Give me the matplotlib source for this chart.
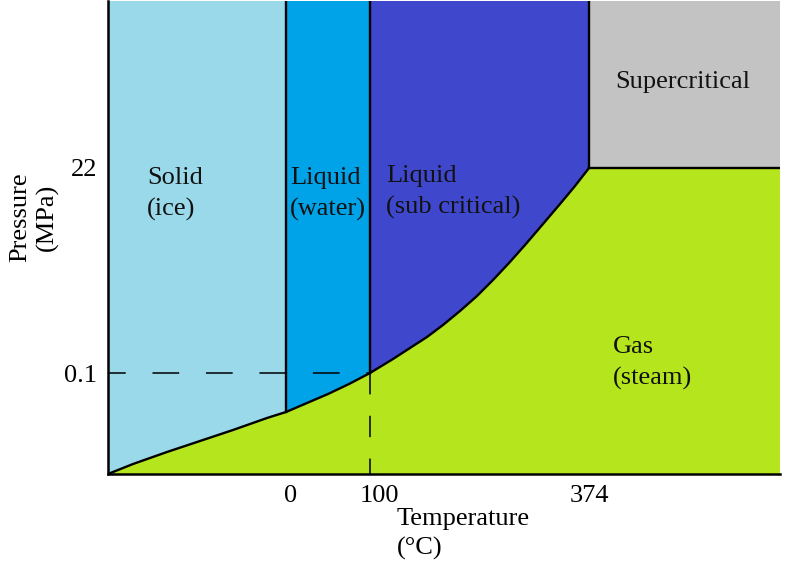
import matplotlib
matplotlib.use("Agg")
import matplotlib.pyplot as plt
from matplotlib.transforms import ScaledTranslation
import numpy as np

plt.rcParams['font.family'] = ['Liberation Serif', 'DejaVu Serif']

# Schematic coordinates (diagram units)
curve_x = [0, 25, 59, 92, 125, 159, 178, 199, 220, 241, 262, 285, 302, 319, 335,
           352, 369, 385, 401, 417, 435, 452, 467, 481]
curve_y = [0, 10, 22, 33, 44, 56, 62, 71, 80, 90, 101, 115, 126, 137, 149,
           163, 178, 194, 211, 229, 250, 270, 288, 306]
x_melt, x_boil, x_crit = 178, 262, 481
y_melt, y_atm, y_crit = 62, 101, 306
x_max, y_max = 672, 473

x_tick_pos = [178, 262, 481]
x_tick_labels = ["0", "100", "374"]
y_tick_pos = [101, 306]
y_tick_labels = ["0.1", "22"]

region_labels = ["Solid\n(ice)", "Liquid\n(water)", "Liquid\n(sub critical)", "Supercritical", "Gas\n(steam)"]
region_pos = [(39, 280), (182, 280), (278, 282), (507, 392), (505, 111)]

c_ice = "#99D9EA"
c_water = "#00A2E8"
c_sub = "#3F48CC"
c_gas = "#B5E61D"
c_super = "#C3C3C3"

fig = plt.figure(figsize=(7.88, 5.65), dpi=100)
ax = fig.add_axes([108/788, (565-474)/565, 672/788, 473/565])
ax.set_xlim(0, x_max)
ax.set_ylim(0, y_max)

cx = np.array(curve_x, float)
cy = np.array(curve_y, float)

def seg(a, b):
    m = (cx >= a) & (cx <= b)
    return cx[m], cy[m]

# Gas region
gx = list(cx) + [x_max, x_max, 0]
gy = list(cy) + [y_crit, 0, 0]
ax.fill(gx, gy, color=c_gas, lw=0)
# Ice
sx, sy = seg(0, x_melt)
ax.fill(list(sx) + [x_melt, 0], list(sy) + [y_max, y_max], color=c_ice, lw=0)
# Water
sx, sy = seg(x_melt, x_boil)
ax.fill(list(sx) + [x_boil, x_melt], list(sy) + [y_max, y_max], color=c_water, lw=0)
# Subcritical
sx, sy = seg(x_boil, x_crit)
ax.fill(list(sx) + [x_crit, x_boil], list(sy) + [y_max, y_max], color=c_sub, lw=0)
# Supercritical
ax.fill([x_crit, x_max, x_max, x_crit], [y_crit, y_crit, y_max, y_max], color=c_super, lw=0)

lw = 1.7
ax.plot(cx, cy, color="black", lw=lw, solid_joinstyle="round")
ax.plot([x_melt, x_melt], [y_melt, y_max], color="black", lw=lw)
ax.plot([x_boil, x_boil], [y_atm, y_max], color="black", lw=lw)
ax.plot([x_crit, x_crit], [y_crit, y_max], color="black", lw=lw)
ax.plot([x_crit, x_max], [y_crit, y_crit], color="black", lw=lw)

# dashed guides
ax.plot([-9, x_boil], [y_atm, y_atm], color="black", lw=1.1, dashes=(17.5, 17.5))
ax.plot([x_boil, x_boil], [y_atm, 0], color="black", lw=1.1, dashes=(14, 14))

for (x, y), t in zip(region_pos, region_labels):
    ax.text(x, y, t, fontsize=19, ha="left", va="center", linespacing=1.45, color="#111111")

for s in ["top", "right"]:
    ax.spines[s].set_visible(False)
for s in ["left", "bottom"]:
    ax.spines[s].set_linewidth(1.8)
    ax.spines[s].set_color("black")

ax.set_xticks(x_tick_pos)
ax.set_xticklabels(x_tick_labels, fontsize=19)
ax.set_yticks(y_tick_pos)
ax.set_yticklabels(y_tick_labels, fontsize=19)
ax.tick_params(length=0, pad=8)
offs = [5, 9, 0]
for lab, o in zip(ax.get_xticklabels(), offs):
    lab.set_transform(lab.get_transform() + ScaledTranslation(o/100, 0, fig.dpi_scale_trans))

fig.text(397/788, 1 - 534/565, "Temperature\n(°C)", fontsize=19, ha="left", va="center", linespacing=1.34)
fig.text(34/788, 1 - 217/565, "Pressure\n(MPa)", fontsize=19, ha="center", va="center",
         rotation=90, linespacing=1.25, multialignment="center")

fig.savefig("out.png", dpi=100)
